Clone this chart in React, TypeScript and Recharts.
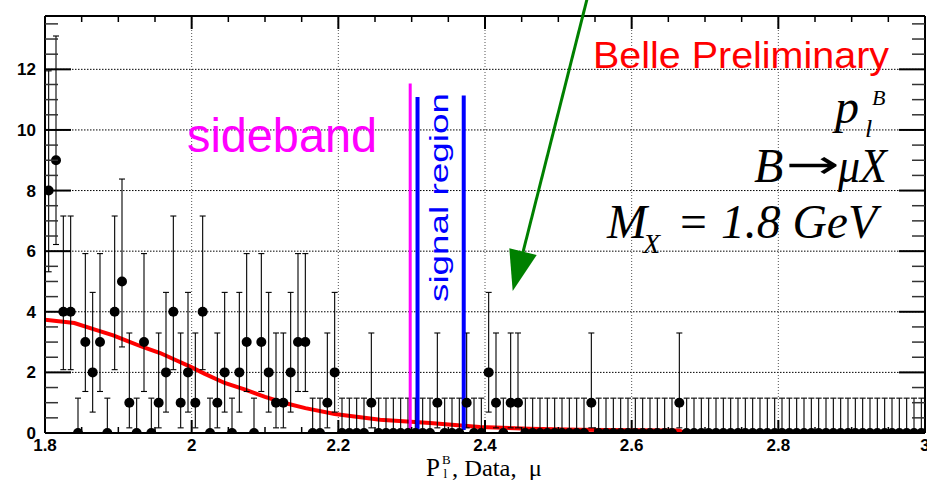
import React from 'react';
import { ComposedChart, XAxis, YAxis, Scatter, ErrorBar, Line, ReferenceLine } from 'recharts';

// Histogram: P_l^B for B -> mu X, 120 bins of width 0.01 from 1.8 to 3.0
const binStart = 1.8;
const binWidth = 0.01;
const counts = [
  8, 9, 4, 4, 0, 3, 2, 3, 0, 4,
  5, 1, 0, 3, 0, 1, 2, 4, 1, 2,
  1, 4, 0, 1, 2, 0, 2, 3, 0, 3,
  2, 1, 1, 2, 3, 3, 0, 0, 1, 2,
  0, 0, 0, 0, 1, 0, 0, 0, 0, 0,
  0, 0, 0, 1, 0, 0, 0, 1, 0, 0,
  2, 1, 0, 1, 1, 0, 0, 0, 0, 0,
  0, 0, 0, 0, 1, 0, 0, 0, 0, 0,
  0, 0, 0, 0, 0, 0, 1, 0, 0, 0,
  0, 0, 0, 0, 0, 0, 0, 0, 0, 0,
  0, 0, 0, 0, 0, 0, 0, 0, 0, 0,
  0, 0, 0, 0, 0, 0, 0, 0, 0, 0,
];

// Poisson interval bounds (lower, upper) indexed by count
const errLowBound = [0, 0.17, 0.69, 1.37, 2.09, 2.84, 3.62, 4.42, 5.32, 6.22];
const errHighBound = [1.15, 3.3, 4.64, 5.92, 7.16, 8.38, 9.58, 10.77, 11.95, 13.1];

// Red background curve
const fitX = [1.8, 1.84, 1.866, 1.893, 1.911, 1.934, 1.957, 1.975, 1.998, 2.018, 2.045, 2.073, 2.1, 2.127, 2.155, 2.195, 2.257, 2.325, 2.393, 2.46, 2.53, 2.6, 2.665, 2.67, 2.8, 3.0];
const fitY = [3.74, 3.63, 3.43, 3.22, 3.05, 2.83, 2.64, 2.44, 2.19, 1.95, 1.65, 1.43, 1.19, 0.99, 0.82, 0.63, 0.44, 0.33, 0.2, 0.14, 0.11, 0.09, 0.08, 0.02, 0.02, 0.01];

// Axis ticks
const xMajorTicks = [1.8, 2.0, 2.2, 2.4, 2.6, 2.8, 3.0];
const xTickLabels = ['1.8', '2', '2.2', '2.4', '2.6', '2.8', '3'];
const yMajorTicks = [0, 2, 4, 6, 8, 10, 12];
const xGrid = [2.0, 2.2, 2.4, 2.6, 2.8];
const yGrid = [2, 4, 6, 8, 10, 12];
const xAllTicks = Array.from({ length: 25 }, (_, i) => Math.round((1.8 + i * 0.05) * 1000) / 1000);
const yAllTicks = Array.from({ length: 28 }, (_, i) => i * 0.5);

// Region markers
const sidebandEdge = { x: 2.298, top: 11.53 };
const signalLeft = { x: 2.308, top: 11.09 };
const signalRight = { x: 2.371, top: 11.14 };

const points = counts.map((n, i) => ({
  x: binStart + binWidth * (i + 0.5),
  y: n,
  err: [n - errLowBound[n], errHighBound[n] - n],
}));
const fit = fitX.map((x, i) => ({ x, y: fitY[i] }));

const SANS = 'Liberation Sans, Arial, Helvetica, sans-serif';
const SERIF = 'Liberation Serif, Times New Roman, serif';

const isMajor = (v: number, list: number[]) => list.some((m) => Math.abs(m - v) < 1e-6);

const LeftTick = (p: any) => {
  const v = p.payload.value;
  const major = isMajor(v, yMajorTicks);
  return (
    <g>
      <line x1={p.x} x2={p.x + (major ? 26 : 13)} y1={p.y} y2={p.y} stroke={major ? '#000' : '#333'} strokeWidth={major ? 2 : 1.5} />
      {major && (
        <text x={p.x - 9} y={p.y} dy={6} textAnchor="end" fontSize={17} fontWeight="bold" fontFamily={SANS} fill="#000">
          {String(v)}
        </text>
      )}
    </g>
  );
};

const RightTick = (p: any) => {
  const v = p.payload.value;
  const major = isMajor(v, yMajorTicks);
  return <line x1={p.x} x2={p.x - (major ? 26 : 13)} y1={p.y} y2={p.y} stroke={major ? '#000' : '#333'} strokeWidth={major ? 2 : 1.5} />;
};

const BottomTick = (p: any) => {
  const v = p.payload.value;
  const idx = xMajorTicks.findIndex((m) => Math.abs(m - v) < 1e-6);
  const major = idx >= 0;
  return (
    <g>
      <line x1={p.x} x2={p.x} y1={p.y} y2={p.y - (major ? 13 : 6)} stroke="#000" strokeWidth={major ? 2 : 1.5} />
      {major && (
        <text x={p.x} y={p.y + 18} textAnchor="middle" fontSize={17} fontWeight="bold" fontFamily={SANS} fill="#000">
          {xTickLabels[idx]}
        </text>
      )}
    </g>
  );
};

const TopTick = (p: any) => {
  const v = p.payload.value;
  const major = isMajor(v, xMajorTicks);
  return <line x1={p.x} x2={p.x} y1={p.y} y2={p.y + (major ? 13 : 6)} stroke="#000" strokeWidth={major ? 2 : 1.5} />;
};

const Dot = (p: any) => <circle cx={p.cx} cy={p.cy} r={5} fill="#000" />;

export default function App() {
  return (
    <div style={{ position: 'absolute', left: 0, top: 0, width: 927, height: 480, background: '#fff', overflow: 'hidden' }}>
      <ComposedChart width={927} height={480} margin={{ top: 0, right: 0, bottom: 0, left: 0 }}>
        <XAxis
          xAxisId={0}
          dataKey="x"
          type="number"
          domain={[1.8, 3.0]}
          allowDataOverflow
          ticks={xAllTicks}
          interval={0}
          tickSize={0}
          tickMargin={0}
          height={47}
          axisLine={{ stroke: '#000', strokeWidth: 2 }}
          tickLine={false}
          tick={<BottomTick />}
        />
        <XAxis
          xAxisId="top"
          orientation="top"
          dataKey="x"
          type="number"
          domain={[1.8, 3.0]}
          allowDataOverflow
          ticks={xAllTicks}
          interval={0}
          tickSize={0}
          tickMargin={0}
          height={16}
          axisLine={{ stroke: '#000', strokeWidth: 2 }}
          tickLine={false}
          tick={<TopTick />}
        />
        <YAxis
          yAxisId={0}
          dataKey="y"
          type="number"
          domain={[0, 13.76]}
          allowDataOverflow
          ticks={yAllTicks}
          interval={0}
          tickSize={0}
          tickMargin={0}
          width={45}
          axisLine={{ stroke: '#000', strokeWidth: 2 }}
          tickLine={false}
          tick={<LeftTick />}
        />
        <YAxis
          yAxisId="right"
          orientation="right"
          dataKey="y"
          type="number"
          domain={[0, 13.76]}
          allowDataOverflow
          ticks={yAllTicks}
          interval={0}
          tickSize={0}
          tickMargin={0}
          width={2}
          axisLine={{ stroke: '#000', strokeWidth: 2 }}
          tickLine={false}
          tick={<RightTick />}
        />
        {yGrid.map((v) => (
          <ReferenceLine key={'gy' + v} y={v} stroke="#000" strokeWidth={1} strokeDasharray="1.5 1.5" />
        ))}
        {xGrid.map((v) => (
          <ReferenceLine key={'gx' + v} x={v} stroke="#555" strokeWidth={1} strokeDasharray="1 2" />
        ))}
        <Line data={fit} dataKey="y" type="linear" stroke="#ff0000" strokeWidth={4} dot={false} isAnimationActive={false} />
        <Scatter data={points} dataKey="y" fill="#000" shape={<Dot />} isAnimationActive={false}>
          <ErrorBar dataKey="err" direction="y" width={3} stroke="#000" strokeWidth={1.1} isAnimationActive={false} />
        </Scatter>
        <ReferenceLine segment={[{ x: sidebandEdge.x, y: 0 }, { x: sidebandEdge.x, y: sidebandEdge.top }]} stroke="#ff00ff" strokeWidth={3} />
        <ReferenceLine segment={[{ x: signalLeft.x, y: 0 }, { x: signalLeft.x, y: signalLeft.top }]} stroke="#0000ff" strokeWidth={4} />
        <ReferenceLine segment={[{ x: signalRight.x, y: 0.1 }, { x: signalRight.x, y: signalRight.top }]} stroke="#0000ff" strokeWidth={4} />
      </ComposedChart>
      <svg width={927} height={480} style={{ position: 'absolute', left: 0, top: 0, pointerEvents: 'none' }}>
        <text x={187} y={151.5} fontSize={48} fontFamily={SANS} fill="#ff00ff" textLength={190} lengthAdjust="spacingAndGlyphs">sideband</text>
        <text x={593} y={68.3} fontSize={37} fontFamily={SANS} fill="#ff0000" textLength={296} lengthAdjust="spacingAndGlyphs">Belle Preliminary</text>
        <text transform="translate(448,197.5) rotate(-90)" textAnchor="middle" fontSize={26} fontFamily={SANS} fill="#0000ff" textLength={209} lengthAdjust="spacingAndGlyphs">signal region</text>
        <text x={835} y={123} fontSize={48} fontStyle="italic" fontFamily={SERIF} fill="#000">p</text>
        <text x={865} y={137} fontSize={26} fontStyle="italic" fontFamily={SERIF} fill="#000">l</text>
        <text x={872} y={105} fontSize={22} fontStyle="italic" fontFamily={SERIF} fill="#000">B</text>
        <text x={754} y={181.7} fontSize={48} fontStyle="italic" fontFamily={SERIF} fill="#000">B</text>
        <text x={786} y={178} fontSize={40} fontFamily="DejaVu Sans, sans-serif" fill="#000" textLength={54} lengthAdjust="spacingAndGlyphs">→</text>
        <text x={838} y={181.7} fontSize={48} fontStyle="italic" fontFamily={SERIF} fill="#000" textLength={49} lengthAdjust="spacingAndGlyphs">μX</text>
        <text x={607} y={238} fontSize={48} fontStyle="italic" fontFamily={SERIF} fill="#000">M</text>
        <text x={643} y={253} fontSize={28} fontStyle="italic" fontFamily={SERIF} fill="#000">X</text>
        <text x={677} y={238} fontSize={48} fontStyle="italic" fontFamily={SERIF} fill="#000" textLength={200} lengthAdjust="spacingAndGlyphs">{'=\u00a01.8\u00a0GeV'}</text>
        <text x={426} y={476} fontSize={25} fontFamily={SERIF} fill="#000">P</text>
        <text x={442} y={464} fontSize={13} fontFamily={SERIF} fill="#000">B</text>
        <text x={443.5} y={477.5} fontSize={13} fontFamily={SERIF} fill="#000">l</text>
        <text x={452} y={476} fontSize={24} fontFamily={SERIF} fill="#000" textLength={90} lengthAdjust="spacingAndGlyphs">{',\u00a0Data,\u00a0\u00a0μ'}</text>
        <line x1={587.3} y1={-2} x2={522} y2={256} stroke="#008000" strokeWidth={3} />
        <polygon points="509.3,248.3 536.7,255 512.7,291" fill="#008000" />
      </svg>
    </div>
  );
}
